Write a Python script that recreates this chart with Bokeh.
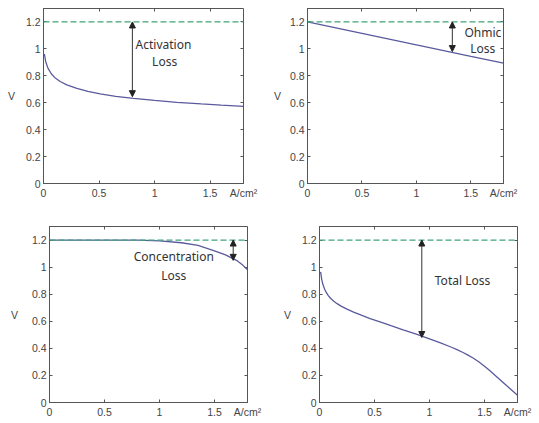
from bokeh.plotting import figure
from bokeh.layouts import column, row
from bokeh.models import (Range1d, FixedTicker, LinearAxis, Span, Arrow,
                          NormalHead, Label)
from bokeh.embed import file_html
from bokeh.resources import INLINE

# ---------------- data ----------------
x_ticks = [0, 0.5, 1, 1.5]
x_tick_labels = ["0", "0.5", "1", "1.5"]
y_ticks = [0, 0.2, 0.4, 0.6, 0.8, 1, 1.2]
y_tick_labels = ["0", "0.2", "0.4", "0.6", "0.8", "1", "1.2"]
x_unit = "A/cm²"
x_unit_at = 1.8
y_unit = "V"
open_circuit_v = 1.2

act_i = [0.008, 0.02, 0.04, 0.07, 0.1, 0.15, 0.21, 0.3, 0.4, 0.51, 0.65,
         0.81, 1.0, 1.2, 1.42, 1.6, 1.8]
act_v = [0.962, 0.905, 0.857, 0.815, 0.788, 0.758, 0.733, 0.706, 0.685,
         0.665, 0.647, 0.632, 0.617, 0.603, 0.591, 0.582, 0.573]

ohm_i = [0, 0.5, 1.0, 1.5, 1.8]
ohm_v = [1.2, 1.115, 1.03, 0.945, 0.895]

conc_i = [0, 0.5, 0.8, 1.0, 1.2, 1.35, 1.5, 1.6, 1.7, 1.75, 1.8]
conc_v = [1.2, 1.2, 1.199, 1.194, 1.18, 1.16, 1.12, 1.09, 1.05, 1.02, 0.98]

tot_i = [0.01, 0.02, 0.03, 0.045, 0.06, 0.08, 0.1, 0.13, 0.16, 0.2, 0.25,
         0.31, 0.38, 0.46, 0.55, 0.65, 0.76, 0.88, 1.0, 1.1, 1.2, 1.25, 1.3,
         1.35, 1.4, 1.45, 1.5, 1.55, 1.6, 1.7, 1.8]
tot_v = [0.965, 0.91, 0.875, 0.84, 0.815, 0.79, 0.77, 0.748, 0.73, 0.71,
         0.69, 0.668, 0.645, 0.62, 0.595, 0.567, 0.537, 0.505, 0.47, 0.44,
         0.408, 0.39, 0.371, 0.35, 0.327, 0.299, 0.268, 0.234, 0.198,
         0.125, 0.053]

# ---------------- styles ----------------
CURVE = "#5a5a9e"
DASH = "#3fa57a"
FRAME = "#555555"
TXT = "#333333"
TICK_FONT = "Liberation Sans"
ANN_FONT = "Noto Sans"


def make_panel(xs, ys, w, h, mbl, mbr, mbt, mbb, arrow_x, arrow_end,
               texts, v_standoff):
    p = figure(width=w, height=h, x_range=Range1d(0, 1.8),
               y_range=Range1d(0, 1.3), output_backend="svg",
               toolbar_location=None, min_border_left=mbl,
               min_border_right=mbr, min_border_top=mbt,
               min_border_bottom=mbb)
    p.grid.visible = False
    p.outline_line_color = FRAME
    p.outline_line_width = 1
    p.background_fill_color = "white"
    p.border_fill_color = "white"

    xt = x_ticks + [x_unit_at]
    xl = x_tick_labels + [x_unit]
    for ax, ticks, labels in ((p.xaxis[0], xt, xl),
                              (p.yaxis[0], y_ticks, y_tick_labels)):
        ax.ticker = FixedTicker(ticks=ticks)
        ax.major_label_overrides = {t: l for t, l in zip(ticks, labels)}
        ax.minor_tick_line_color = None
        ax.major_tick_in = 3
        ax.major_tick_out = 0
        ax.major_tick_line_color = FRAME
        ax.axis_line_color = FRAME
        ax.major_label_text_font = TICK_FONT
        ax.major_label_text_font_size = "10.5px"
        ax.major_label_text_color = "#444444"
        ax.major_label_standoff = 3

    ya = p.yaxis[0]
    ya.axis_label = y_unit
    ya.axis_label_orientation = "horizontal"
    ya.axis_label_text_font = TICK_FONT
    ya.axis_label_text_font_size = "10.5px"
    ya.axis_label_text_font_style = "normal"
    ya.axis_label_text_color = "#444444"
    ya.axis_label_standoff = v_standoff

    for side, ticks in (("above", x_ticks), ("right", y_ticks)):
        ax = LinearAxis(ticker=FixedTicker(ticks=ticks),
                        major_label_overrides={t: "" for t in ticks},
                        major_label_text_font_size="0px",
                        major_label_standoff=0, major_tick_in=3,
                        major_tick_out=0, minor_tick_line_color=None,
                        major_tick_line_color=FRAME, axis_line_color=None)
        p.add_layout(ax, side)

    p.add_layout(Span(location=open_circuit_v, dimension="width",
                      line_color=DASH, line_dash="6 3", line_width=1.3))
    p.line(xs, ys, line_color=CURVE, line_width=1.3)

    p.add_layout(Arrow(x_start=arrow_x, y_start=arrow_end, x_end=arrow_x,
                       y_end=open_circuit_v, line_color="#333333",
                       line_width=1,
                       start=NormalHead(size=6, fill_color="#222222",
                                        line_color="#222222"),
                       end=NormalHead(size=6, fill_color="#222222",
                                      line_color="#222222")))
    for t, tx, ty in texts:
        p.add_layout(Label(x=tx, y=ty, text=t, text_align="center",
                           text_baseline="middle", text_font=ANN_FONT,
                           text_font_size="12px", text_color=TXT))
    return p


p1 = make_panel(act_i, act_v, 270, 210, 43, 27, 6, 27, 0.80, 0.645,
                [("Activation", 1.08, 1.035), ("Loss", 1.09, 0.905)], 8)
p2 = make_panel(ohm_i, ohm_v, 265, 210, 36, 32, 8, 26, 1.33, 0.98,
                [("Ohmic", 1.61, 1.12), ("Loss", 1.61, 1.0)], 6)
p3 = make_panel(conc_i, conc_v, 270, 210, 49, 23, 15, 14, 1.67, 1.05,
                [("Concentration", 1.13, 1.075), ("Loss", 1.13, 0.94)], 11)
p4 = make_panel(tot_i, tot_v, 265, 210, 49, 18, 16, 13, 0.93, 0.48,
                [("Total Loss", 1.30, 0.90)], 8)

layout = column(row(p1, p2), row(p3, p4))
open("out.html", "w").write(file_html(layout, INLINE))
